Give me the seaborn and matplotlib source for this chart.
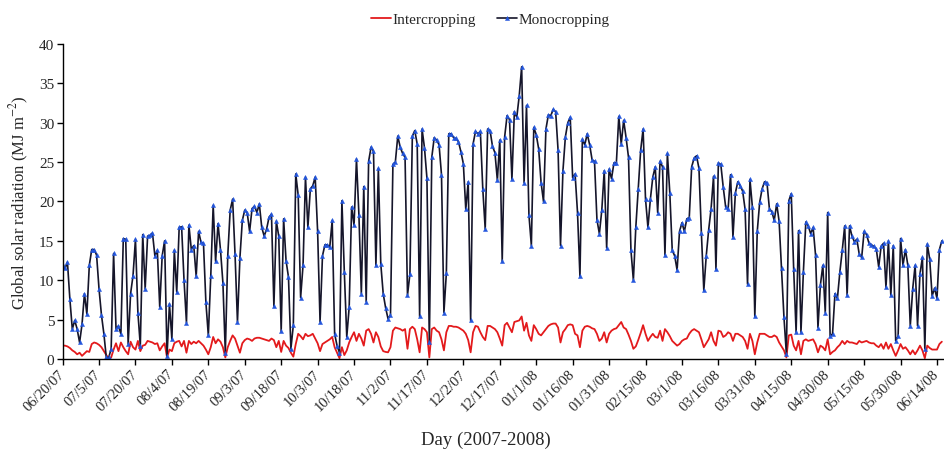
import numpy as np
import pandas as pd
import matplotlib
matplotlib.use("Agg")
import matplotlib.pyplot as plt
import seaborn as sns

start_date = "2007-06-20"

monocropping = [
    12.0, 11.5, 12.3, 7.6, 3.8, 4.9, 3.8, 2.1, 4.4, 8.3, 5.7, 11.9, 13.9, 13.9, 13.2, 8.9, 5.6, 3.2, 0.2, 0.2,
    1.3, 13.4, 3.8, 4.2, 3.2, 15.3, 15.2, 1.9, 8.3, 10.6, 15.2, 5.9, 1.7, 15.8,
    8.9, 15.6, 15.7, 16.0, 13.1, 13.8, 6.6, 13.1, 15.0, 0.4, 7.0, 2.5, 13.8, 8.5, 16.7, 16.8, 10.0, 4.6, 17.0,
    13.9, 14.4, 10.5, 16.2, 14.8, 14.7, 7.2, 3.0, 10.5, 19.5, 12.4, 17.2, 13.9, 9.7,
    0.8, 13.1, 18.9, 20.3, 13.3, 4.7, 12.8, 17.6, 18.9, 18.6, 16.2, 19.1, 19.4, 18.6, 19.7, 16.7, 15.6, 16.5,
    18.0, 18.4, 6.7, 17.5, 15.6, 3.5, 17.8, 12.5, 10.4, 1.3, 4.3, 23.5, 20.8, 7.8, 11.9,
    23.1, 16.7, 21.6, 22.0, 23.1, 16.2, 4.7, 13.1, 14.5, 14.5, 14.2, 17.6, 3.2, 1.7, 0.8, 20.1, 11.0, 2.8, 6.6,
    19.3, 17.0, 25.4, 18.3, 8.3, 21.9, 7.3, 25.1, 26.9, 26.4, 11.9, 24.2, 12.1, 8.3,
    6.5, 5.1, 5.6, 24.7, 25.0, 28.3, 26.9, 26.1, 25.6, 8.1, 10.8, 28.3, 29.0, 27.3, 5.4, 29.2, 26.8, 23.0, 2.2,
    25.6, 28.1, 27.8, 27.2, 23.4, 5.9, 10.9, 28.6, 28.6, 28.1, 28.0, 27.6, 26.3, 24.8,
    19.0, 22.5, 4.9, 27.3, 28.9, 28.6, 28.9, 21.6, 16.5, 29.2, 29.0, 27.0, 26.2, 22.7, 27.8, 12.4, 28.2, 30.9,
    30.4, 22.8, 31.4, 30.7, 33.4, 37.1, 22.4, 32.2, 18.3, 14.4, 29.4, 28.5, 26.7, 22.4, 20.0,
    29.2, 31.0, 30.9, 31.7, 31.4, 26.5, 14.4, 23.9, 28.2, 30.0, 30.7, 23.0, 23.5, 18.6, 10.5, 27.9, 27.2, 28.6,
    27.2, 25.3, 25.1, 17.7, 15.9, 18.9, 23.9, 14.1, 24.1, 22.9, 24.9, 24.9, 30.8, 27.3, 30.3,
    28.1, 25.6, 13.8, 10.0, 16.7, 21.6, 26.5, 29.2, 20.3, 16.7, 20.3, 23.1, 24.4, 18.6, 25.1, 24.4, 13.2, 26.1,
    21.1, 13.8, 13.1, 11.3, 16.2, 17.3, 16.2, 17.8, 17.9, 24.4, 25.5, 25.8, 24.2, 16.0, 8.7,
    13.1, 16.4, 19.1, 23.2, 11.4, 24.9, 24.7, 21.8, 19.3, 19.0, 23.4, 15.5, 21.1, 22.5, 22.0, 21.3, 19.0, 9.5,
    22.8, 19.3, 5.4, 16.2, 19.9, 21.6, 22.5, 22.4, 19.1, 18.7, 17.6, 19.7, 17.5, 11.5, 5.3,
    0.6, 20.1, 21.0, 11.4, 3.4, 16.3, 3.4, 11.1, 17.4, 16.9, 15.9, 16.7, 13.2, 4.0, 9.4, 11.9, 5.9, 18.6, 2.9,
    3.2, 8.3, 7.7, 11.0, 13.8, 16.9, 8.1, 16.9, 15.6, 14.9, 15.2, 13.3, 12.9, 16.2,
    15.8, 14.7, 14.5, 14.3, 14.0, 11.7, 14.3, 14.7, 9.1, 15.0, 8.1, 14.4, 2.3, 2.9, 15.3, 11.9, 13.9, 11.9,
    4.2, 8.9, 11.9, 4.2, 10.8, 12.9, 1.3, 14.6, 12.7, 8.0, 9.0, 7.7, 13.9, 15.0,
]

intercropping = [
    1.7, 1.7, 1.6, 1.4, 1.1, 0.9, 0.6, 0.8, 0.4, 0.7, 1.0, 0.9, 1.9, 2.1, 2.0, 1.8, 1.5, 1.0, 0.5, 0.1,
    0.2, 1.2, 2.0, 1.0, 2.1, 1.5, 1.0, 0.6, 2.2, 1.5, 1.2, 2.3, 1.0, 1.7,
    1.8, 2.3, 2.2, 2.1, 1.9, 2.0, 1.1, 1.6, 2.0, 0.2, 1.2, 1.0, 2.0, 2.2, 2.3, 1.6, 2.3, 0.8, 2.3, 1.9, 2.2,
    2.0, 2.3, 2.0, 1.7, 1.2, 0.6, 1.5, 2.8, 2.0, 2.5, 2.2, 1.5,
    0.2, 1.5, 2.3, 3.0, 2.6, 1.7, 0.8, 2.0, 2.4, 2.6, 2.5, 2.3, 2.6, 2.7, 2.7, 2.6, 2.5, 2.4, 2.3, 2.6, 2.4,
    1.5, 2.3, 0.9, 2.3, 1.7, 1.4, 0.8, 0.3, 1.9, 3.2, 2.9, 2.5,
    3.2, 2.9, 3.0, 3.2, 2.6, 2.0, 1.0, 1.9, 2.1, 2.3, 2.5, 2.8, 1.5, 0.8, 0.1, 1.5, 0.5, 1.1, 2.1, 2.8, 3.4,
    2.3, 3.2, 2.6, 1.7, 3.6, 3.8, 3.2, 2.1, 3.4, 2.8, 1.6, 1.0,
    0.9, 0.85, 1.5, 3.6, 4.0, 3.9, 3.8, 3.6, 3.8, 1.3, 3.8, 4.1, 3.8, 2.5, 0.85, 4.0, 3.8, 3.4, 0.2, 3.8,
    4.0, 3.6, 3.4, 2.5, 1.1, 3.4, 4.2, 4.2, 4.1, 4.1, 4.0, 3.8, 3.6,
    3.2, 2.4, 0.85, 3.4, 4.2, 4.1, 3.4, 2.8, 2.4, 4.2, 4.2, 4.0, 3.8, 3.4, 2.6, 1.7, 4.3, 4.6, 4.0, 3.4,
    4.7, 4.8, 4.9, 5.4, 3.6, 4.6, 3.0, 2.3, 4.3, 3.8, 3.2, 3.0, 3.4,
    3.8, 4.2, 4.4, 4.5, 4.5, 4.0, 2.1, 3.4, 3.8, 4.3, 4.4, 4.3, 3.2, 3.0, 1.5, 3.6, 4.1, 4.2, 4.1, 3.9,
    3.8, 3.2, 2.3, 2.6, 3.4, 2.1, 3.2, 3.6, 3.8, 3.9, 4.3, 4.7, 4.0,
    3.8, 3.1, 2.3, 1.3, 1.6, 2.4, 3.3, 4.3, 3.2, 2.3, 2.8, 3.2, 2.8, 2.7, 3.6, 2.3, 3.8, 3.4, 2.9, 2.3,
    2.0, 1.7, 1.9, 2.3, 2.5, 2.6, 3.2, 3.6, 3.8, 3.6, 3.4, 2.5, 1.5,
    2.0, 2.5, 3.4, 2.3, 1.7, 3.6, 3.5, 2.8, 3.0, 3.4, 3.2, 2.3, 3.2, 3.2, 3.0, 2.8, 2.3, 1.3, 3.2, 2.3,
    0.6, 2.1, 3.2, 3.2, 3.2, 3.0, 2.8, 2.8, 3.0, 2.8, 2.1, 1.6, 1.1,
    0.2, 3.0, 3.1, 1.7, 1.1, 2.3, 0.6, 2.3, 2.5, 2.3, 2.4, 2.5, 1.9, 0.85, 1.7, 1.5, 1.1, 2.5, 0.6, 0.9,
    1.1, 1.5, 1.8, 2.3, 1.9, 2.3, 2.1, 2.1, 2.0, 1.9, 2.3, 2.1, 2.2,
    2.3, 2.1, 2.0, 2.0, 1.7, 1.5, 1.9, 1.3, 2.1, 1.3, 1.9, 1.1, 0.4, 1.1, 1.9, 1.3, 1.5, 1.1, 0.6, 1.1,
    0.6, 1.1, 1.7, 1.1, 0.1, 1.7, 1.4, 1.2, 1.2, 1.2, 1.9, 2.2,
]

tick_labels = [
    "06/20/07", "07/5/07", "07/20/07", "08/4/07", "08/19/07", "09/3/07", "09/18/07", "10/3/07",
    "10/18/07", "11/2/07", "11/17/07", "12/2/07", "12/17/07", "01/1/08", "01/16/08", "01/31/08",
    "02/15/08", "03/1/08", "03/16/08", "03/31/08", "04/15/08", "04/30/08", "05/15/08", "05/30/08",
    "06/14/08",
]
y_ticks = [0, 5, 10, 15, 20, 25, 30, 35, 40]

sns.set_theme(style="white")
plt.rcParams["font.family"] = ["Liberation Serif", "DejaVu Serif"]
plt.rcParams["mathtext.fontset"] = "stix"

n = len(monocropping)
dates = pd.date_range(start_date, periods=n, freq="D")

fig = plt.figure(figsize=(9.44, 4.52), dpi=100)
ax = fig.add_axes([0.0663, 0.2035, 0.9327, 0.697])

sns.lineplot(x=dates, y=intercropping[:n], ax=ax, color="#e31a1c", linewidth=1.3,
             label="Intercropping")
sns.lineplot(x=dates, y=monocropping, ax=ax, color="#15152a", linewidth=1.2,
             marker="^", markersize=3.0, markerfacecolor="#2255dd",
             markeredgecolor="#2255dd", markeredgewidth=0.3, label="Monocropping")

tick_dates = pd.date_range(start_date, periods=len(tick_labels), freq="15D")
ax.set_xticks(tick_dates)
ax.set_xticklabels(tick_labels, rotation=45, ha="right", va="center",
                   rotation_mode="anchor", fontsize=10.5)
ax.set_xlim(dates[0], dates[-1] + pd.Timedelta(hours=12))
ax.set_ylim(0, 40)
ax.set_yticks(y_ticks)
ax.set_yticklabels([str(v) for v in y_ticks], fontsize=11)

for side in ["top", "right"]:
    ax.spines[side].set_visible(False)
for side in ["left", "bottom"]:
    ax.spines[side].set_color("black")
    ax.spines[side].set_linewidth(1.0)
ax.tick_params(axis="both", direction="out", length=4, width=1, color="black",
               left=True, bottom=True, pad=2)
ax.tick_params(axis="x", pad=5)

ax.set_xlabel("")
ax.set_ylabel("Global solar radiation (MJ m$^{-2}$)", fontsize=12, labelpad=6)
fig.text(486 / 944, 1 - 440 / 452, "Day (2007-2008)", ha="center", va="center", fontsize=13.5)

ax.get_legend().remove()
handles, labels = ax.get_legend_handles_labels()
fig.legend(handles, labels, loc="center", bbox_to_anchor=(490 / 944, 1 - 20 / 452), ncol=2,
           frameon=False, fontsize=11, handlelength=1.3, handletextpad=0.1, columnspacing=1.4)

fig.savefig("out.png", dpi=100)
